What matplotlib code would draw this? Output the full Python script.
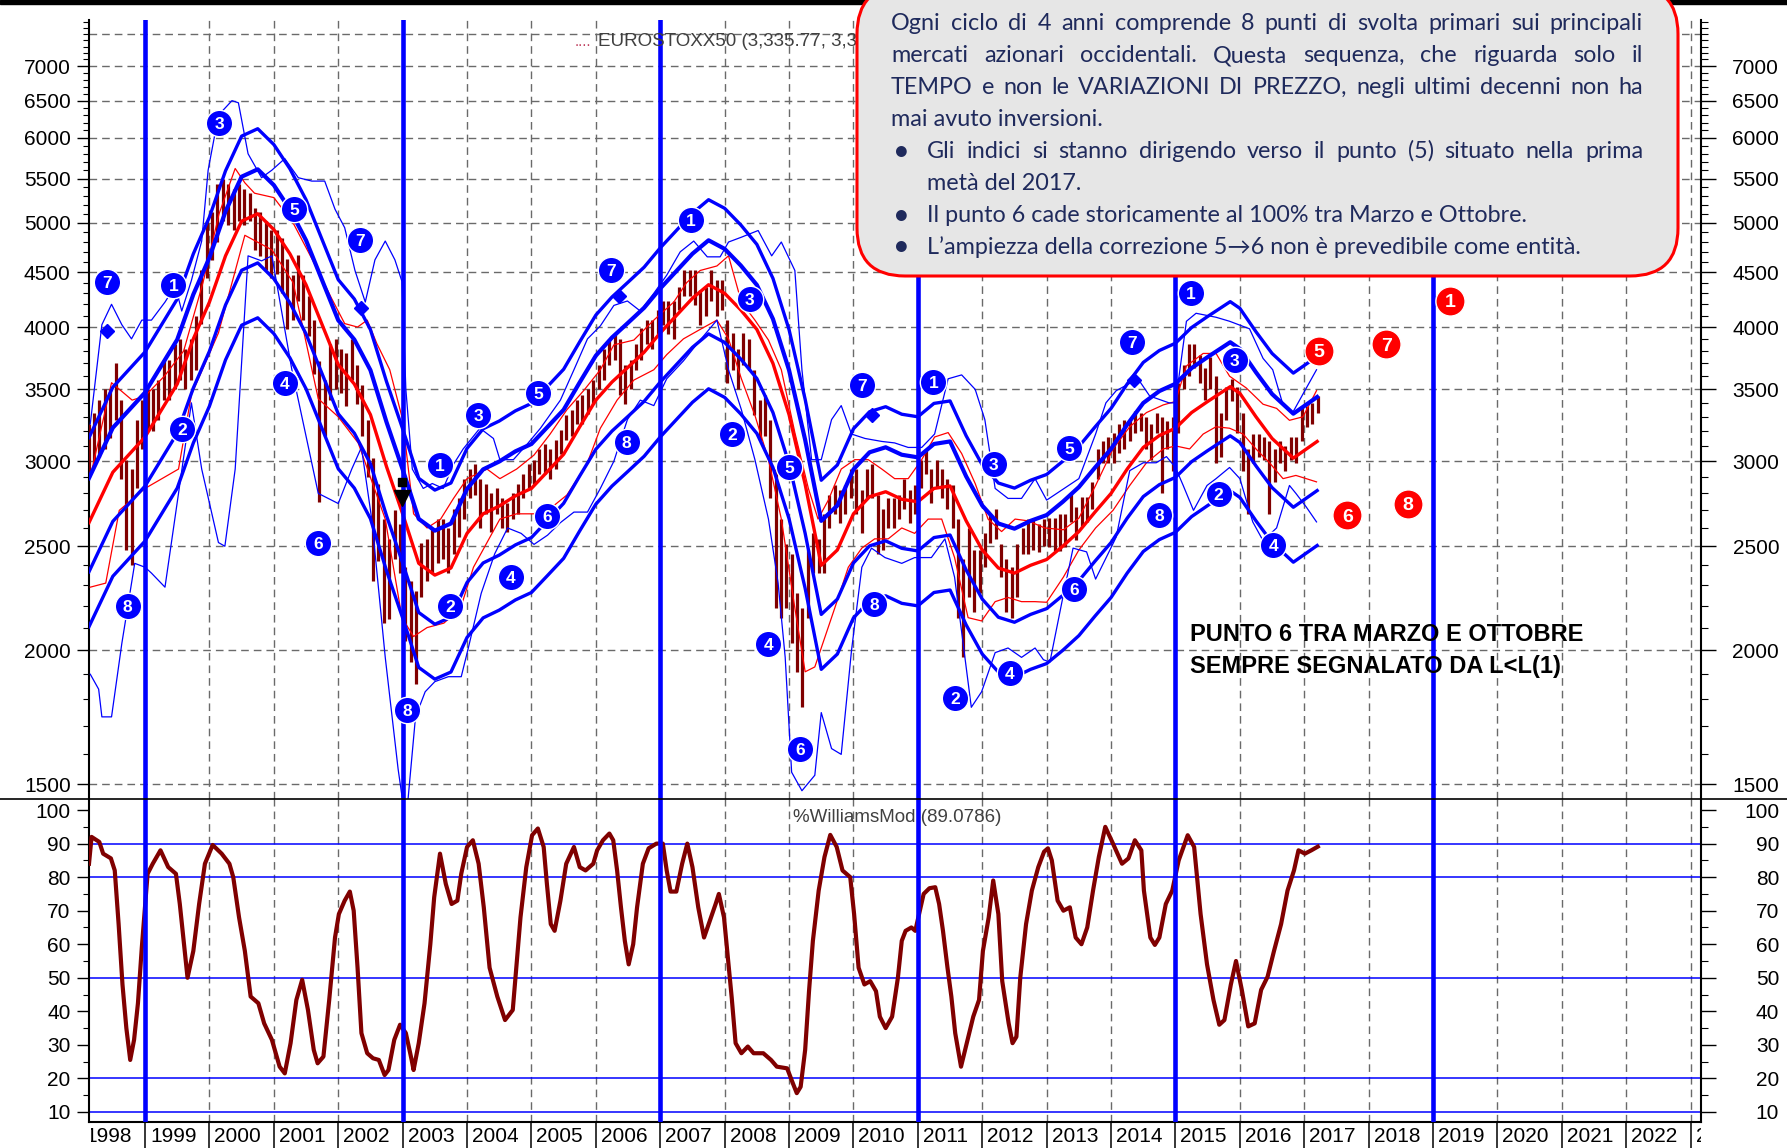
import matplotlib
matplotlib.use("Agg")
import matplotlib.pyplot as plt
from matplotlib import font_manager
from matplotlib.patches import FancyBboxPatch, Rectangle
from matplotlib.lines import Line2D
from matplotlib.ticker import FixedLocator, NullFormatter, FuncFormatter
from matplotlib.transforms import IdentityTransform, Bbox, TransformedBbox, offset_copy

W, H = 1787, 1148
DPI = 100

# ---------------- data ----------------
# monthly high / low bars, Feb 1998 .. Mar 2017
bar_high = [
    3250, 3330, 3420, 3500, 3500, 3700, 3420, 3010, 2950, 3280, 3420,
    3500, 3500, 3570, 3730, 3730, 3860, 3900, 3820, 3900, 4100, 4520, 5020,
    5120, 5440, 5500, 5440, 5380, 5440, 5380, 5330, 5160, 5120, 5020, 4930,
    4930, 4840, 4630, 4470, 4670, 4470, 4280, 4060, 3720, 3570, 3860, 3900,
    3820, 3780, 3900, 3690, 3530, 3280, 3020, 2860, 2650, 2540, 2700, 2620,
    2390, 2320, 2270, 2520, 2540, 2600, 2650, 2650, 2600, 2710, 2770, 2890,
    2950, 2980, 2890, 2860, 2800, 2830, 2770, 2740, 2800, 2860, 2920, 2980,
    3010, 3080, 3110, 3080, 3140, 3210, 3310, 3350, 3420, 3460, 3500, 3570,
    3690, 3820, 3900, 3940, 3900, 3690, 3730, 3860, 3990, 4060, 4060, 4150,
    4230, 4230, 4230, 4360, 4520, 4520, 4520, 4330, 4360, 4520, 4420, 4420,
    4060, 3950, 3820, 3950, 3900, 3650, 3420, 3460, 3280, 2950, 2650, 2510,
    2460, 2260, 2190, 2480, 2570, 2540, 2680, 2790, 2850, 2820, 2850, 2950,
    2950, 2820, 2950, 2980, 2790, 2710, 2770, 2770, 2790, 2890, 2820, 2850,
    3010, 3080, 2950, 3010, 2950, 2890, 2850, 2650, 2430, 2600, 2480, 2480,
    2570, 2680, 2710, 2510, 2430, 2390, 2510, 2600, 2650, 2650, 2620, 2650,
    2655, 2655, 2680, 2680, 2800, 2720, 2780, 2780, 2870, 3080, 3130, 3160,
    3190, 3250, 3280, 3280, 3340, 3330, 3300, 3250, 3330, 3300, 3270, 3300,
    3550, 3690, 3860, 3860, 3770, 3660, 3750, 3600, 3330, 3520, 3580, 3520,
    3330, 3080, 3180, 3180, 3160, 3130, 3080, 3130, 3100, 3160, 3160, 3380,
    3380, 3400, 3450,
]
bar_low = [
    2900, 2990, 3030, 3080, 3150, 3280, 2890, 2480, 2400, 2830, 3080,
    3200, 3200, 3280, 3420, 3420, 3500, 3570, 3500, 3570, 3650, 4030, 4440,
    4620, 4800, 5020, 4980, 4930, 5020, 4980, 5020, 4720, 4660, 4520, 4440,
    4480, 4300, 3980, 4060, 4230, 4060, 3920, 3620, 2750, 3170, 3420, 3500,
    3470, 3380, 3570, 3390, 3170, 2900, 2320, 2420, 2120, 2140, 2430, 2360,
    2040, 1950, 1860, 2240, 2320, 2360, 2410, 2430, 2360, 2460, 2550, 2650,
    2770, 2790, 2600, 2680, 2580, 2680, 2600, 2580, 2650, 2680, 2770, 2830,
    2860, 2920, 2920, 2890, 2950, 3050, 3140, 3170, 3250, 3250, 3320, 3390,
    3500, 3570, 3690, 3730, 3460, 3390, 3500, 3650, 3730, 3860, 3820, 3940,
    4020, 3940, 3900, 4150, 4280, 4280, 4190, 4020, 4100, 4230, 4100, 4150,
    3550, 3650, 3500, 3690, 3650, 3310, 3140, 3170, 2770, 2190, 2145, 2190,
    2030, 1910, 1770, 2145, 2360, 2360, 2360, 2600, 2680, 2630, 2680, 2770,
    2680, 2570, 2770, 2770, 2460, 2480, 2600, 2600, 2650, 2710, 2630, 2680,
    2830, 2920, 2740, 2830, 2770, 2710, 2600, 2145, 1970, 2240, 2170, 2260,
    2390, 2520, 2540, 2340, 2170, 2145, 2240, 2460, 2460, 2480, 2470, 2500,
    2495, 2475, 2475, 2495, 2634, 2535, 2610, 2634, 2710, 2890, 2990, 2990,
    2990, 3055, 3080, 3130, 3190, 3200, 3080, 3010, 3190, 2800, 3080, 2940,
    3190, 3500, 3600, 3660, 3550, 3420, 3500, 2990, 3030, 3280, 3410, 3190,
    2940, 2680, 2990, 3030, 3010, 2680, 2870, 2990, 2940, 3010, 2990, 3130,
    3230, 3250, 3330,
]

# smoothed moving average (thick red) and its envelopes (thick blue)
ma_years = [1998.13, 1998.5, 1999.0, 1999.5, 1999.75,
            2000.0, 2000.25, 2000.5, 2000.75, 2001.0, 2001.25, 2001.5, 2001.75,
            2002.0, 2002.25, 2002.5, 2002.75, 2003.0, 2003.25, 2003.5, 2003.75,
            2004.0, 2004.25, 2004.5, 2004.75, 2005.0, 2005.25, 2005.5, 2005.75,
            2006.0, 2006.25, 2006.5, 2006.75, 2007.0, 2007.25, 2007.5, 2007.75,
            2008.0, 2008.25, 2008.5, 2008.75, 2009.0, 2009.25, 2009.5, 2009.75,
            2010.0, 2010.25, 2010.5, 2010.75, 2011.0, 2011.25, 2011.5, 2011.75,
            2012.0, 2012.25, 2012.5, 2012.75, 2013.0, 2013.25, 2013.5, 2013.75,
            2014.0, 2014.25, 2014.5, 2014.75, 2015.0, 2015.25, 2015.5, 2015.85,
            2016.0, 2016.25, 2016.5, 2016.83, 2017.0, 2017.2]
ma_mid = [2630, 2930, 3160, 3540, 3900,
          4220, 4660, 5020, 5100, 4930, 4680, 4380, 4020,
          3690, 3540, 3315, 2965, 2680, 2410, 2350, 2386,
          2570, 2680, 2725, 2785, 2830, 2935, 3045, 3230,
          3420, 3555, 3670, 3790, 3950, 4100, 4255, 4380,
          4300, 4150, 3980, 3700, 3315, 2855, 2400, 2480,
          2680, 2780, 2810, 2765, 2750, 2830, 2845, 2640,
          2480, 2386, 2360, 2400, 2430, 2500, 2580, 2690,
          2800, 2950, 3090, 3170, 3220, 3330, 3410, 3520,
          3470, 3300, 3150, 3020, 3070, 3130]
band_up2 = [3156, 3516, 3792, 4248, 4680,
            5064, 5592, 6024, 6120, 5916, 5616, 5256, 4824,
            4428, 4248, 3978, 3558, 3216, 2892, 2820, 2863,
            3084, 3216, 3270, 3342, 3396, 3522, 3654, 3876,
            4104, 4266, 4404, 4548, 4740, 4920, 5106, 5256,
            5160, 4980, 4776, 4440, 3978, 3426, 2880, 2976,
            3216, 3336, 3372, 3318, 3300, 3396, 3414, 3168,
            2976, 2863, 2832, 2880, 2916, 3000, 3096, 3228,
            3360, 3540, 3708, 3804, 3864, 3996, 4092, 4224,
            4164, 3960, 3780, 3624, 3684, 3756]
band_up1 = [2893, 3223, 3476, 3894, 4290,
            4642, 5126, 5522, 5610, 5423, 5148, 4818, 4422,
            4059, 3894, 3647, 3262, 2948, 2651, 2585, 2625,
            2827, 2948, 2998, 3064, 3113, 3229, 3350, 3553,
            3762, 3911, 4037, 4169, 4345, 4510, 4681, 4818,
            4730, 4565, 4378, 4070, 3647, 3141, 2640, 2728,
            2948, 3058, 3091, 3042, 3025, 3113, 3130, 2904,
            2728, 2625, 2596, 2640, 2673, 2750, 2838, 2959,
            3080, 3245, 3399, 3487, 3542, 3663, 3751, 3872,
            3817, 3630, 3465, 3322, 3377, 3443]
band_dn1 = [2367, 2637, 2844, 3186, 3510,
            3798, 4194, 4518, 4590, 4437, 4212, 3942, 3618,
            3321, 3186, 2984, 2669, 2412, 2169, 2115, 2147,
            2313, 2412, 2453, 2507, 2547, 2642, 2741, 2907,
            3078, 3200, 3303, 3411, 3555, 3690, 3830, 3942,
            3870, 3735, 3582, 3330, 2984, 2570, 2160, 2232,
            2412, 2502, 2529, 2489, 2475, 2547, 2561, 2376,
            2232, 2147, 2124, 2160, 2187, 2250, 2322, 2421,
            2520, 2655, 2781, 2853, 2898, 2997, 3069, 3168,
            3123, 2970, 2835, 2718, 2763, 2817]
band_dn2 = [2104, 2344, 2528, 2832, 3120,
            3376, 3728, 4016, 4080, 3944, 3744, 3504, 3216,
            2952, 2832, 2652, 2372, 2144, 1928, 1880, 1909,
            2056, 2144, 2180, 2228, 2264, 2348, 2436, 2584,
            2736, 2844, 2936, 3032, 3160, 3280, 3404, 3504,
            3440, 3320, 3184, 2960, 2652, 2284, 1920, 1984,
            2144, 2224, 2248, 2212, 2200, 2264, 2276, 2112,
            1984, 1909, 1888, 1920, 1944, 2000, 2064, 2152,
            2240, 2360, 2472, 2536, 2576, 2664, 2728, 2816,
            2776, 2640, 2520, 2416, 2456, 2504]

# thin blue outer envelopes
thin_blue_hi_x = [1998.15, 1998.33, 1998.48, 1998.64, 1998.79, 1998.95,
                  1999.1, 1999.31, 1999.47, 1999.57, 1999.72, 1999.88, 1999.98,
                  2000.14, 2000.35, 2000.45, 2000.6, 2000.81, 2000.97,
                  2001.17, 2001.38, 2001.59, 2001.79, 2001.95,
                  2002.1, 2002.26, 2002.42, 2002.57, 2002.73, 2002.88, 2002.99,
                  2003.05, 2003.15, 2003.32, 2003.46, 2003.63, 2003.79, 2003.94,
                  2004.2, 2004.41, 2004.51, 2004.72, 2004.93,
                  2005.14, 2005.45, 2005.66, 2005.87,
                  2006.07, 2006.28, 2006.49, 2006.69, 2006.9,
                  2007.1, 2007.31, 2007.52, 2007.73, 2007.93,
                  2008.06, 2008.26, 2008.52, 2008.73, 2008.88,
                  2009.09, 2009.2, 2009.35, 2009.5, 2009.66, 2009.81, 2009.97,
                  2010.18, 2010.44, 2010.64, 2010.85,
                  2011.06, 2011.26, 2011.47, 2011.68, 2011.89,
                  2012.04, 2012.2, 2012.4, 2012.61, 2012.82,
                  2013.0, 2013.5, 2013.76, 2013.92,
                  2014.08, 2014.29, 2014.39, 2014.6, 2014.9,
                  2015.0, 2015.17, 2015.32, 2015.63, 2015.84,
                  2016.15, 2016.36, 2016.51, 2016.67, 2016.82, 2016.98,
                  2017.19]
thin_blue_hi_y = [3250, 4020, 4200, 4020, 3900, 4060,
                  4060, 4220, 4370, 4140, 4420, 4810, 5600,
                  6300, 6500, 6470, 5800, 5510, 5600,
                  5740, 5510, 5470, 5470, 5150,
                  4950, 4516, 4220, 4620, 4810, 4620, 4410,
                  3500, 2950, 2830, 2860, 2830, 2980, 3080,
                  3220, 3150, 3010, 3010, 3110,
                  3220, 3420, 3650, 3900,
                  4010, 4190, 4230, 4140, 4300,
                  4470, 4700, 4810, 4650, 4650,
                  4800, 4850, 4920, 4660, 4800,
                  4516, 3650, 3010, 3010, 3280, 3380, 3180,
                  3150, 3130, 3120, 3090,
                  3090, 3180, 3580, 3610, 3500,
                  3280, 2830, 2770, 2770, 2890,
                  2760, 2890, 3180, 3400,
                  3490, 3545, 3600, 3450, 3400,
                  3400, 4050, 4120, 4085, 4050,
                  3985, 3740, 3650, 3385, 3330, 3465,
                  3650]
thin_blue_lo_x = [1998.15, 1998.28, 1998.33, 1998.48, 1998.64, 1998.84,
                  1999.0, 1999.1, 1999.31, 1999.52, 1999.72, 1999.88,
                  2000.14, 2000.24, 2000.4, 2000.6, 2000.81, 2000.97,
                  2001.28, 2001.69,
                  2002.0, 2002.21, 2002.36, 2002.52, 2002.73, 2002.93,
                  2003.05, 2003.2, 2003.35, 2003.5, 2003.71, 2003.91,
                  2004.02, 2004.22, 2004.43, 2004.63, 2004.84,
                  2005.04, 2005.25, 2005.45, 2005.66, 2005.87,
                  2006.07, 2006.28, 2006.49, 2006.69, 2006.9,
                  2007.1, 2007.36, 2007.62, 2007.88,
                  2008.06, 2008.26, 2008.47, 2008.68, 2008.83, 2008.94,
                  2009.04, 2009.2, 2009.4, 2009.5, 2009.66, 2009.81, 2009.97,
                  2010.13, 2010.28, 2010.49, 2010.75, 2010.95,
                  2011.21, 2011.42, 2011.57, 2011.68, 2011.83, 2011.99,
                  2012.2, 2012.4, 2012.61, 2012.82, 2012.95,
                  2013.05, 2013.26, 2013.41, 2013.62, 2013.76, 2013.92,
                  2014.08, 2014.29, 2014.5, 2014.7, 2014.86,
                  2015.0, 2015.12, 2015.28, 2015.49, 2015.63, 2015.84,
                  2016.0, 2016.2, 2016.36, 2016.57, 2016.77, 2016.87,
                  2017.03, 2017.19]
thin_blue_lo_y = [1900, 1840, 1734, 1734, 2030, 2410,
                  2390, 2360, 2290, 2800, 3400, 2950,
                  2520, 2500, 2950, 4660, 4610, 4660,
                  3650, 2800,
                  2740, 2950, 3090, 2650, 1970, 1550,
                  1380, 1734, 1830, 1870, 1890, 1890,
                  2010, 2260, 2460, 2600, 2570,
                  2510, 2560, 2630, 2690, 2690,
                  2830, 3000, 3280, 3420, 3380,
                  3580, 3720, 3890, 4060,
                  3650, 3350, 3010, 2650, 2310, 1970,
                  1540, 1480, 1530, 1750, 1620, 1600, 2000,
                  2390, 2490, 2440, 2410, 2440,
                  2440, 2540, 2340, 2080, 1770, 1830,
                  1990, 2010, 1970, 2010, 1960,
                  1950, 2254, 2490, 2470, 2330, 2437,
                  2550, 2940, 2990, 2990, 3030,
                  2960, 2848, 2700, 2848, 2890, 2960,
                  2890, 2634, 2530, 2600, 2848, 2800,
                  2720, 2634]

# thin red short-term envelopes
thin_red_hi_x = [1998.15, 1998.48, 1998.8,
                 1999.0, 1999.3, 1999.6, 1999.9,
                 2000.15, 2000.4, 2000.55, 2000.7,
                 2001.0, 2001.3, 2001.6, 2001.9,
                 2002.1, 2002.3, 2002.45, 2002.6, 2002.8,
                 2003.0, 2003.17, 2003.38, 2003.59, 2003.79,
                 2004.0, 2004.31, 2004.51, 2004.77,
                 2005.04, 2005.29, 2005.55, 2005.81,
                 2006.07, 2006.28, 2006.59, 2006.9,
                 2007.21, 2007.41, 2007.62, 2007.88,
                 2008.06, 2008.26, 2008.47, 2008.68, 2008.88,
                 2009.09, 2009.3, 2009.45, 2009.61, 2009.81,
                 2010.02, 2010.23, 2010.44, 2010.64, 2010.85,
                 2011.06, 2011.26, 2011.47, 2011.68, 2011.89,
                 2012.09, 2012.3, 2012.51, 2012.71, 2012.97,
                 2013.26, 2013.5, 2013.76,
                 2014.03, 2014.29, 2014.55, 2014.81,
                 2015.0, 2015.17, 2015.43, 2015.63, 2015.84,
                 2016.1, 2016.36, 2016.57, 2016.77, 2016.98,
                 2017.19]
thin_red_hi_y = [2900, 3550, 3420,
                 3450, 3600, 3800, 4400,
                 5100, 5620, 5450, 5330,
                 5280, 5000, 4620, 4250,
                 4030, 4000, 4060, 3860, 3650,
                 3280, 2680, 2600, 2650, 2770,
                 2890, 2950, 2890, 2950,
                 3040, 3180, 3350, 3490,
                 3650, 3850, 3890, 4060,
                 4220, 4400, 4516, 4560,
                 4660, 4220, 4060, 3890, 3650,
                 3190, 2830, 2650, 2760, 2950,
                 3010, 3010, 2950, 2890, 2890,
                 3010, 3160, 3190, 3050, 2860,
                 2650, 2580, 2650, 2640, 2600,
                 2590, 2655, 2848,
                 3080, 3230, 3330, 3385,
                 3410, 3680, 3780, 3780, 3600,
                 3510, 3390, 3360, 3275, 3300,
                 3490]
thin_red_lo_x = [1998.15, 1998.39, 1998.6,
                 1999.0, 1999.52, 1999.72,
                 2000.14, 2000.55, 2000.97,
                 2001.3, 2001.69,
                 2002.0, 2002.31, 2002.73, 2002.99,
                 2003.17, 2003.38, 2003.64, 2003.9,
                 2004.1, 2004.31, 2004.51, 2004.77,
                 2005.04, 2005.29, 2005.55, 2005.86,
                 2006.07, 2006.33, 2006.59, 2006.9,
                 2007.1, 2007.36, 2007.62, 2007.88,
                 2008.06, 2008.26, 2008.47, 2008.68, 2008.88,
                 2009.09, 2009.25, 2009.4, 2009.56, 2009.71, 2009.92,
                 2010.13, 2010.33, 2010.54, 2010.75, 2010.95,
                 2011.16, 2011.37, 2011.57, 2011.78, 2011.99,
                 2012.2, 2012.4, 2012.61, 2012.82,
                 2013.0, 2013.26, 2013.5, 2013.76,
                 2014.03, 2014.29, 2014.55, 2014.81,
                 2015.0, 2015.22, 2015.43, 2015.63, 2015.84,
                 2016.05, 2016.25, 2016.46, 2016.67, 2016.87,
                 2017.03, 2017.19]
thin_red_lo_y = [2290, 2310, 2700,
                 2830, 2950, 3460,
                 3950, 4870, 4720,
                 4400, 3430,
                 3300, 3120, 2650, 2145,
                 2060, 2100, 2120, 2190,
                 2390, 2520, 2650, 2680,
                 2680, 2710, 2790, 2980,
                 3220, 3420, 3570, 3650,
                 3770, 3900, 3980, 4060,
                 3900, 3580, 3310, 3010, 2650,
                 2190, 1910, 1930, 2060, 2190, 2390,
                 2490, 2540, 2540, 2600, 2570,
                 2650, 2650, 2440, 2145, 2130,
                 2220, 2240, 2220, 2220,
                 2217, 2340, 2480, 2600,
                 2700, 2848, 2990, 3080,
                 3100, 3080, 3180, 3230, 3220,
                 3180, 3080, 2990, 2890, 2910,
                 2890, 2870]

# %Williams oscillator (lower panel)
wr_x = [1998.13, 1998.17, 1998.29, 1998.35, 1998.47, 1998.53, 1998.59, 1998.65, 1998.71, 1998.77, 1998.83, 1998.89, 1998.95,
        1999.04, 1999.12, 1999.24, 1999.36, 1999.48, 1999.54, 1999.66, 1999.75, 1999.84, 1999.93,
        2000.05, 2000.19, 2000.31, 2000.37, 2000.46, 2000.55, 2000.64, 2000.76, 2000.85, 2000.97,
        2001.09, 2001.17, 2001.26, 2001.35, 2001.44, 2001.53, 2001.62, 2001.68, 2001.77, 2001.86, 2001.95,
        2002.01, 2002.10, 2002.18, 2002.24, 2002.30, 2002.36, 2002.45, 2002.54, 2002.63, 2002.72, 2002.78, 2002.87, 2002.96,
        2003.05, 2003.14, 2003.17, 2003.25, 2003.34, 2003.43, 2003.49, 2003.58, 2003.67, 2003.76, 2003.85, 2003.91,
        2004.00, 2004.09, 2004.18, 2004.26, 2004.35, 2004.47, 2004.59, 2004.71, 2004.77, 2004.83, 2004.92,
        2005.01, 2005.10, 2005.19, 2005.24, 2005.30, 2005.36, 2005.45, 2005.54, 2005.66, 2005.75, 2005.84, 2005.96,
        2006.02, 2006.11, 2006.21, 2006.27, 2006.33, 2006.39, 2006.45, 2006.51, 2006.58, 2006.64, 2006.73, 2006.82, 2006.94,
        2007.04, 2007.10, 2007.16, 2007.25, 2007.34, 2007.42, 2007.50, 2007.59, 2007.68, 2007.77, 2007.86, 2007.91, 2007.99,
        2008.05, 2008.11, 2008.17, 2008.26, 2008.36, 2008.45, 2008.60, 2008.72, 2008.81, 2008.97,
        2009.06, 2009.12, 2009.18, 2009.25, 2009.31, 2009.37, 2009.46, 2009.55, 2009.64, 2009.74, 2009.83, 2009.95,
        2010.01, 2010.08, 2010.17, 2010.26, 2010.35, 2010.41, 2010.50, 2010.60, 2010.69, 2010.75, 2010.81, 2010.90, 2010.96,
        2011.03, 2011.09, 2011.18, 2011.27, 2011.33, 2011.39, 2011.46, 2011.52, 2011.58, 2011.67, 2011.76, 2011.86, 2011.95,
        2012.01, 2012.10, 2012.17, 2012.25, 2012.31, 2012.41, 2012.47, 2012.53, 2012.59, 2012.68, 2012.77, 2012.87, 2012.96,
        2013.02, 2013.08, 2013.17, 2013.26, 2013.36, 2013.45, 2013.54, 2013.63, 2013.72, 2013.81, 2013.91,
        2014.03, 2014.17, 2014.27, 2014.37, 2014.47, 2014.51, 2014.61, 2014.68, 2014.75, 2014.85, 2014.95,
        2015.05, 2015.19, 2015.29, 2015.39, 2015.49, 2015.59, 2015.68, 2015.76, 2015.86, 2015.94,
        2016.03, 2016.13, 2016.23, 2016.33, 2016.43, 2016.53, 2016.64, 2016.74, 2016.84, 2016.91,
        2017.01, 2017.11, 2017.21]
wr_y = [84, 92, 90.5, 87, 85.6, 82, 66, 48, 35, 25.5, 31.5, 42.4, 59,
        81, 84, 88, 83, 81, 72, 50, 58, 72, 84,
        89.6, 87, 84, 80, 68, 58, 44.4, 42.4, 36.4, 31.5,
        23.5, 21.5, 30.5, 43.4, 49.4, 40.4, 28.5, 24.5, 26.5, 43.4, 62,
        69, 73, 75.7, 70, 53, 33.5, 27.5, 26, 25.5, 21, 22.5, 31.5, 36,
        33.5, 25.5, 22.5, 30.5, 42.4, 60, 74, 87, 78, 72, 73, 81,
        89, 91, 84, 71, 53, 44.4, 37.4, 40.4, 54.3, 68, 83,
        92.5, 94.5, 89, 78, 66, 64, 73, 84, 89, 83, 82, 84,
        88, 91, 93, 91, 82, 71, 61, 54, 60, 71, 84, 88.6, 90,
        90, 82, 75.7, 75.7, 84, 90, 83, 71, 62, 67, 72, 75, 68,
        56, 44, 30.5, 27.5, 29.5, 27.5, 27.5, 25.5, 23.5, 23,
        18.5, 15.6, 17.5, 28.5, 46, 61, 76, 86, 92.6, 89, 82, 80,
        69, 53, 48, 49, 46, 38.4, 35, 38.4, 50, 61, 64, 65, 64,
        70, 75, 76.7, 77, 72, 64, 53, 44.4, 33.5, 23.5, 30.5, 38.4, 43.4,
        58, 68, 79, 69, 49, 36.4, 30.5, 32.4, 50, 66, 76, 83, 87.6,
        88.6, 85, 73, 70, 71, 62, 60, 65, 76, 86, 95,
        90, 84, 85.6, 91, 88, 76, 62, 59.8, 62, 72, 76,
        85, 92.5, 89, 69, 54, 43.4, 36, 37.4, 48, 55,
        46.4, 35.5, 36.4, 46.4, 50.3, 58, 66, 76, 82, 88,
        87, 88, 89.1]

cycle_years = [1999, 2003, 2007, 2011, 2015, 2019]

# numbered turning points
blue_pt_x = [1998.41, 1998.73,
             1999.44, 1999.58, 2000.15, 2001.17, 2001.32, 2001.69, 2002.34, 2003.07,
             2003.58, 2003.74, 2004.17, 2004.68, 2005.10, 2005.24, 2006.24, 2006.48,
             2007.48, 2008.12, 2008.39, 2008.68, 2009.00, 2009.17, 2010.14, 2010.32,
             2011.24, 2011.58, 2012.18, 2012.43, 2013.35, 2013.42, 2014.32, 2014.75,
             2015.24, 2015.67, 2015.92, 2016.52]
blue_pt_y = [4410, 2198,
             4378, 3218, 6194, 3548, 5147, 2520, 4816, 1759,
             2975, 2198, 3313, 2342, 3471, 2666, 4520, 3124,
             5036, 3178, 4252, 2027, 2960, 1619, 3531, 2207,
             3557, 1807, 2983, 1903, 3086, 2280, 3874, 2672,
             4304, 2799, 3726, 2507]
blue_pt_lab = ['7', '8',
               '1', '2', '3', '4', '5', '6', '7', '8',
               '1', '2', '3', '4', '5', '6', '7', '8',
               '1', '2', '3', '4', '5', '6', '7', '8',
               '1', '2', '3', '4', '5', '6', '7', '8',
               '1', '2', '3', '4']
red_pt_x = [2017.23, 2017.67, 2018.27, 2018.61, 2019.26]
red_pt_y = [3800, 2672, 3856, 2738, 4231]
red_pt_lab = ['5', '6', '7', '8', '1']
diamond_x = [1998.41, 2002.36, 2006.36, 2010.29, 2014.36]
diamond_y = [3970, 4169, 4273, 3313, 3573]
arrow_x, arrow_y = [2002.99], [2772]

price_ticks = [1500, 2000, 2500, 3000, 3500, 4000, 4500, 5000, 5500, 6000, 6500, 7000]
price_grid = price_ticks + [7500]
price_minor = list(range(1500, 7800, 100))
wr_ticks = [10, 20, 30, 40, 50, 60, 70, 80, 90, 100]
wr_minor = list(range(10, 105, 5))
wr_levels = [10, 20, 50, 80, 90]
year_ticks = list(range(1998, 2024))

title_txt = "EUROSTOXX50 (3,335.77, 3,335.77)"
wr_title = "%WilliamsMod (89.0786)"
note_lines = ["PUNTO 6 TRA MARZO E OTTOBRE", "SEMPRE SEGNALATO DA L<L(1)"]
box_par = ["Ogni ciclo di 4 anni comprende 8 punti di svolta primari sui principali",
           "mercati azionari occidentali. Questa sequenza, che riguarda solo il",
           "TEMPO e non le VARIAZIONI DI PREZZO, negli ultimi decenni non ha",
           "mai avuto inversioni."]
box_bullets = [["Gli indici si stanno dirigendo verso il punto (5) situato nella prima",
                "metà del 2017."],
               ["Il punto 6 cade storicamente al 100% tra Marzo e Ottobre."],
               ["L\u2019ampiezza della correzione 5\u21926 non è prevedibile come entità."]]

# ---------------- style ----------------
BLUE = '#0000FF'
RED = '#FF0000'
BAR = '#800000'
GRID = '#6a6a6a'
NAVY = '#1F2A5C'
DASH = (0, (5.5, 3.6))
XLIM = (1998.127, 2023.16)

names = {f.name for f in font_manager.fontManager.ttflist}
BOX_FONT = ['Lato', 'DejaVu Sans'] if 'Lato' in names else ['DejaVu Sans']
plt.rcParams['font.family'] = ['Liberation Sans', 'DejaVu Sans']

fig = plt.figure(figsize=(W / DPI, H / DPI), dpi=DPI)
fig.patch.set_facecolor('white')

L, R = 88.8, 1701.0
ax1 = fig.add_axes([L / W, 1 - 799 / H, (R - L) / W, (799 - 20) / H])
ax2 = fig.add_axes([L / W, 1 - 1122 / H, (R - L) / W, (1122 - 799) / H], sharex=ax1)
ax1.set_xlim(*XLIM)

# ---- price panel ----
ax1.set_yscale('log')
ax1.set_ylim(1454, 7727)
for g in price_grid:
    ax1.axhline(g, color=GRID, lw=1.0, ls=DASH, zorder=1)
for yr in year_ticks:
    ax1.axvline(yr, color=GRID, lw=1.0, ls=DASH, zorder=1)
    ax2.axvline(yr, color=GRID, lw=1.0, ls=DASH, zorder=1)

bar_x = [1998 + (1 + i + 0.5) / 12 for i in range(len(bar_high))]
ax1.vlines(bar_x, bar_low, bar_high, color=BAR, lw=2.3, zorder=3)

ax1.plot(thin_red_hi_x, thin_red_hi_y, color=RED, lw=0.9, zorder=4)
ax1.plot(thin_red_lo_x, thin_red_lo_y, color=RED, lw=0.9, zorder=4)
ax1.plot(thin_blue_hi_x, thin_blue_hi_y, color=BLUE, lw=0.9, zorder=4)
ax1.plot(thin_blue_lo_x, thin_blue_lo_y, color=BLUE, lw=0.9, zorder=4)

ax1.plot(ma_years, ma_mid, color=RED, lw=2.4, zorder=5)
ax1.plot(ma_years, band_up2, color=BLUE, lw=2.4, zorder=5)
ax1.plot(ma_years, band_up1, color=BLUE, lw=3.0, zorder=5)
ax1.plot(ma_years, band_dn1, color=BLUE, lw=2.4, zorder=5)
ax1.plot(ma_years, band_dn2, color=BLUE, lw=2.4, zorder=5)

for c in cycle_years:
    ax1.axvline(c, color=BLUE, lw=3.3, zorder=6)
    ax2.axvline(c, color=BLUE, lw=3.3, zorder=6)

ax1.plot(diamond_x, diamond_y, 'D', ms=7, color=BLUE, zorder=7)
ax1.plot(arrow_x, arrow_y, 'v', ms=11, color='black', zorder=7)
ax1.plot(arrow_x, [v * 1.035 for v in arrow_y], 's', ms=6, color='black', zorder=7)

ax1.plot(blue_pt_x, blue_pt_y, 'o', ms=19, mfc=BLUE, mec='white', mew=1.0, zorder=8)
for x, v, s in zip(blue_pt_x, blue_pt_y, blue_pt_lab):
    ax1.text(x, v, s, color='white', ha='center', va='center_baseline',
             fontsize=12.5, fontweight='bold', zorder=9)
ax1.plot(red_pt_x, red_pt_y, 'o', ms=21, mfc=RED, mec='white', mew=1.0, zorder=8)
for x, v, s in zip(red_pt_x, red_pt_y, red_pt_lab):
    ax1.text(x, v, s, color='white', ha='center', va='center_baseline',
             fontsize=14, fontweight='bold', zorder=9)

ax1.yaxis.set_major_locator(FixedLocator(price_ticks))
ax1.yaxis.set_major_formatter(FuncFormatter(lambda v, p: f'{v:.0f}'))
ax1.yaxis.set_minor_locator(FixedLocator(price_minor))
ax1.yaxis.set_minor_formatter(NullFormatter())
ax1.tick_params(axis='x', which='both', bottom=False, labelbottom=False)
ax1.tick_params(axis='y', which='major', length=8.6, width=1, pad=4.4, labelsize=15)
ax1.tick_params(axis='y', which='minor', length=4.3, width=0.8)
for s in ('top', 'bottom'):
    ax1.spines[s].set_visible(False)
for s in ('left', 'right'):
    ax1.spines[s].set_linewidth(1.5)

ax1r = ax1.twinx()
ax1r.set_yscale('log')
ax1r.set_ylim(ax1.get_ylim())
ax1r.yaxis.set_major_locator(FixedLocator(price_ticks))
ax1r.yaxis.set_major_formatter(FuncFormatter(lambda v, p: f'{v:.0f}'))
ax1r.yaxis.set_minor_locator(FixedLocator(price_minor))
ax1r.yaxis.set_minor_formatter(NullFormatter())
ax1r.tick_params(axis='y', which='major', length=10.8, width=1, pad=45.5, labelsize=15)
ax1r.tick_params(axis='y', which='minor', length=5, width=0.8)
for s in ax1r.spines.values():
    s.set_visible(False)
for lbl in ax1r.get_yticklabels():
    lbl.set_horizontalalignment('right')

# ---- Williams panel ----
ax2.set_ylim(7.0, 103.3)
for lv in wr_levels:
    ax2.axhline(lv, color=BLUE, lw=1.1, zorder=2)
ax2.plot(wr_x, wr_y, color=BAR, lw=3.0, zorder=4)
ax2.yaxis.set_major_locator(FixedLocator(wr_ticks))
ax2.yaxis.set_minor_locator(FixedLocator(wr_minor))
ax2.tick_params(axis='y', which='major', length=8.6, width=1, pad=4.4, labelsize=15)
ax2.tick_params(axis='y', which='minor', length=4.3, width=0.8)
# locator instead of set_xticks so the view limits are not widened to 1998
ax2.xaxis.set_major_locator(FixedLocator(year_ticks))
ax2.tick_params(axis='x', which='major', direction='out', length=19, width=1.1,
                labelbottom=False)
ax2.tick_params(axis='x', which='minor', bottom=False)
ax2.spines['top'].set_visible(False)
for s in ('left', 'right', 'bottom'):
    ax2.spines[s].set_linewidth(1.5)

ax2r = ax2.twinx()
ax2r.set_ylim(ax2.get_ylim())
ax2r.yaxis.set_major_locator(FixedLocator(wr_ticks))
ax2r.yaxis.set_minor_locator(FixedLocator(wr_minor))
ax2r.tick_params(axis='y', which='major', length=10.8, width=1, pad=45.5, labelsize=15)
ax2r.tick_params(axis='y', which='minor', length=5, width=0.8)
for s in ax2r.spines.values():
    s.set_visible(False)
for lbl in ax2r.get_yticklabels():
    lbl.set_horizontalalignment('right')

ax1.set_xlim(*XLIM)

# year labels, clipped between the two spines
clip = TransformedBbox(Bbox.from_extents(91 / W, 0, R / W, 1), fig.transFigure)
ytr = offset_copy(ax2.get_xaxis_transform(), fig=fig, x=5, y=0, units='dots')
for yr in year_ticks:
    t = ax2.text(yr, -(1136 - 1122) / (1122 - 799), str(yr), transform=ytr,
                 ha='left', va='center', fontsize=15, clip_on=True)
    t.set_clip_box(clip)

# ---- figure level decorations ----
IDT = IdentityTransform()
fig.add_artist(Line2D([0, W], [H - 799, H - 799], transform=IDT, color='black', lw=1.2, zorder=5))
fig.add_artist(Rectangle((0, H - 3.5), W, 4, transform=IDT, color='black', zorder=9))

fig.text(575, H - 40, '....', transform=IDT, color='#c04060', fontsize=11, va='center_baseline')
fig.text(598, H - 40, title_txt, transform=IDT, color='#404040', fontsize=13.5, va='center_baseline')
fig.text(897, H - 815, wr_title, transform=IDT, color='#404040', fontsize=13.5,
         ha='center', va='center_baseline')
for i, s in enumerate(note_lines):
    fig.text(1190, H - (632 + 32 * i), s, transform=IDT, color='black', fontsize=17,
             fontweight='bold', va='center_baseline')

box = FancyBboxPatch((857, H - 276), 1678 - 857, 290,
                     boxstyle='round,pad=0,rounding_size=48', transform=IDT,
                     fc='#e6e6e6', ec=RED, lw=2.2, zorder=10)
fig.add_artist(box)

renderer = fig.canvas.get_renderer()
BOX_FS = 16.8


def box_line(s, x0, x1, ytop, justify):
    kw = dict(transform=IDT, color=NAVY, fontsize=BOX_FS, family=BOX_FONT,
              va='center_baseline', zorder=12)
    if not justify:
        fig.text(x0, H - ytop, s, **kw)
        return
    words = s.split(' ')
    widths = []
    for w in words:
        t = fig.text(0, 0, w, **kw)
        widths.append(t.get_window_extent(renderer).width)
        t.remove()
    gap = (x1 - x0 - sum(widths)) / (len(words) - 1)
    x = x0
    for w, wd in zip(words, widths):
        fig.text(x, H - ytop, w, **kw)
        x += wd + gap


row_y = [21.7 + 31.9 * i for i in range(8)]
row = 0
for i, s in enumerate(box_par):
    box_line(s, 891, 1643, row_y[row], i < len(box_par) - 1)
    row += 1
for item in box_bullets:
    fig.text(893, H - row_y[row], '\u2022', transform=IDT, color=NAVY, fontsize=21,
             family=BOX_FONT, va='center_baseline', zorder=12)
    for j, s in enumerate(item):
        box_line(s, 927, 1643, row_y[row], j < len(item) - 1)
        row += 1

fig.savefig('out.png', dpi=DPI)
